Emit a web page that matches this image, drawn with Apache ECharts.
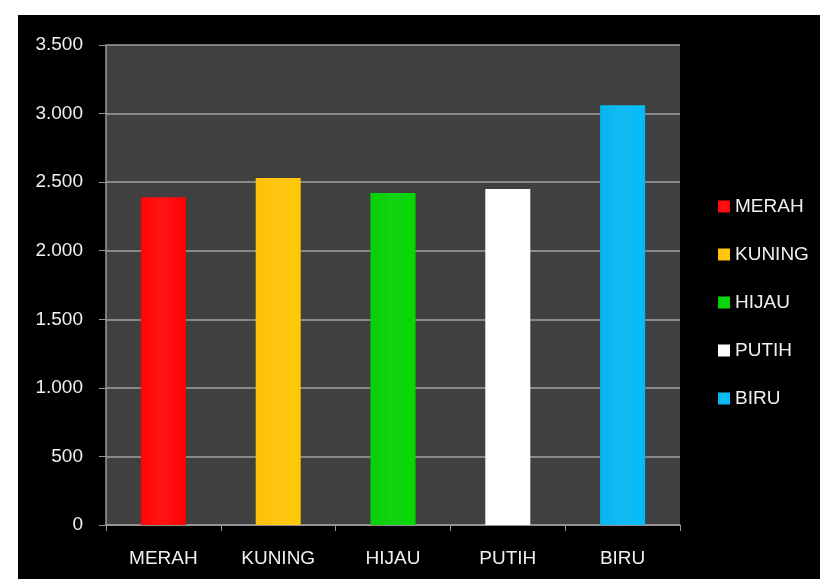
<!DOCTYPE html>
<html>
<head>
<meta charset="utf-8">
<script src="https://cdn.jsdelivr.net/npm/echarts@6/dist/echarts.min.js"></script>
<style>
  html, body { margin: 0; padding: 0; background: #ffffff; }
  #chart { position: absolute; left: 18px; top: 15px; width: 802px; height: 564px; background: #000000; }
</style>
</head>
<body>
<div id="chart"></div>
<script>
var categories = ['MERAH', 'KUNING', 'HIJAU', 'PUTIH', 'BIRU'];
var values = [2390, 2530, 2420, 2450, 3060];
var colors = ['#ff0000', '#ffc000', '#00d000', '#ffffff', '#00b4f0'];
var yTicks = [0, 500, 1000, 1500, 2000, 2500, 3000, 3500];

var chart = echarts.init(document.getElementById('chart'));

// one series per colour so the legend shows each name
var series = categories.map(function (name, i) {
    var data = categories.map(function (c, j) { return j === i ? values[i] : '-'; });
    return {
        name: name,
        type: 'bar',
        data: data,
        barWidth: 45,
        barGap: '-100%',
        itemStyle: {
            color: {
                type: 'linear', x: 0, y: 0, x2: 1, y2: 0,
                colorStops: [
                    { offset: 0, color: echarts.color.lift(colors[i], 0.02) },
                    { offset: 0.5, color: echarts.color.lift(colors[i], 0.08) },
                    { offset: 1, color: echarts.color.lift(colors[i], -0.05) }
                ]
            }
        }
    };
});

chart.setOption({
    backgroundColor: '#000000',
    animation: false,
    color: colors,
    textStyle: { fontFamily: 'Liberation Sans, Arial, sans-serif' },
    grid: {
        left: 88,
        right: 140,
        top: 30,
        bottom: 54,
        show: true,
        backgroundColor: '#404040',
        borderWidth: 0
    },
    legend: {
        orient: 'vertical',
        left: 695,
        top: 177,
        itemWidth: 12,
        itemHeight: 12,
        itemGap: 29,
        icon: 'rect',
        textStyle: { color: '#f0f0f0', fontSize: 19, lineHeight: 18 },
        data: categories
    },
    xAxis: {
        type: 'category',
        data: categories,
        axisLine: { lineStyle: { color: '#9a9a9a', width: 1.5 } },
        axisTick: { show: true, length: 6, lineStyle: { color: '#9a9a9a' } },
        axisLabel: { color: '#f0f0f0', fontSize: 19, margin: 24 }
    },
    yAxis: {
        type: 'value',
        min: yTicks[0],
        max: yTicks[yTicks.length - 1],
        interval: yTicks[1] - yTicks[0],
        axisLine: { show: true, lineStyle: { color: '#9a9a9a', width: 1.5 } },
        axisTick: { show: true, length: 7, lineStyle: { color: '#9a9a9a' } },
        axisLabel: {
            color: '#f0f0f0',
            fontSize: 19,
            margin: 23,
            formatter: function (v) { return v.toLocaleString('de-DE'); }
        },
        splitLine: { lineStyle: { color: '#a0a0a0', width: 1.5 } }
    },
    series: series
});
</script>
</body>
</html>
